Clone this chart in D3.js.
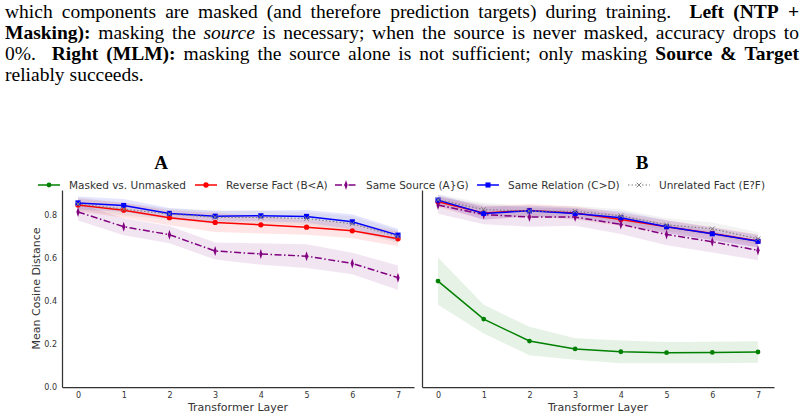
<!DOCTYPE html>
<html lang="en">
<head>
<meta charset="UTF-8">
<title>Mean Cosine Distance per Layer</title>
<script src="https://d3js.org/d3.v7.min.js"></script>
<style>
    body { margin: 0; background: #fff; }
    svg { display: block; }
    .caption { font-family: "Liberation Serif", "DejaVu Serif", serif; font-size: 19.5px; fill: #000; }
    .tick text { font-family: "DejaVu Sans", sans-serif; font-size: 8px; fill: #333; }
    .axis-label { font-family: "DejaVu Sans", sans-serif; font-size: 11px; fill: #333; }
    .legend text { font-family: "DejaVu Sans", sans-serif; font-size: 10.5px; fill: #333; }
    .panel-title { font-family: "Liberation Serif", "DejaVu Serif", serif; font-size: 19px; font-weight: bold; }
</style>
</head>
<body>
<svg id="chart" width="804" height="419"></svg>
<script>
// caption lines (bottom of the figure caption above the chart)
const captionLines = [
    [["which", ""], ["components", ""], ["are", ""], ["masked", ""], ["(and", ""], ["therefore", ""], ["prediction", ""], ["targets)", ""], ["during", ""], ["training.", ""], ["Left", "b"], ["(NTP", "b"], ["+", "b"]],
    [["Masking):", "b"], ["masking", ""], ["the", ""], ["source", "i"], ["is", ""], ["necessary;", ""], ["when", ""], ["the", ""], ["source", ""], ["is", ""], ["never", ""], ["masked,", ""], ["accuracy", ""], ["drops", ""], ["to", ""]],
    [["0%.", ""], ["Right", "b"], ["(MLM):", "b"], ["masking", ""], ["the", ""], ["source", ""], ["alone", ""], ["is", ""], ["not", ""], ["sufficient;", ""], ["only", ""], ["masking", ""], ["Source", "b"], ["&", "b"], ["Target", "b"]],
    [["reliably", ""], ["succeeds.", ""]]
];

const layers = [0, 1, 2, 3, 4, 5, 6, 7];
const yTicks = [0.0, 0.2, 0.4, 0.6, 0.8];

// series names (legend order)
const seriesNames = ["Masked vs. Unmasked", "Reverse Fact (B<A)", "Same Source (A}G)", "Same Relation (C>D)", "Unrelated Fact (E?F)"];

// Panel A: means and spreads
const aReverse      = [0.847, 0.823, 0.788, 0.766, 0.755, 0.744, 0.727, 0.690];
const aReverseSd    = [0.030, 0.035, 0.035, 0.045, 0.040, 0.035, 0.035, 0.035];
const aSource       = [0.815, 0.746, 0.709, 0.633, 0.619, 0.609, 0.575, 0.509];
const aSourceSd     = [0.040, 0.040, 0.040, 0.040, 0.050, 0.055, 0.050, 0.057];
const aRelation     = [0.857, 0.845, 0.808, 0.795, 0.797, 0.794, 0.769, 0.707];
const aRelationSd   = [0.030, 0.030, 0.025, 0.025, 0.025, 0.030, 0.035, 0.030];
const aUnrelated    = [0.852, 0.828, 0.805, 0.790, 0.790, 0.784, 0.760, 0.700];
const aUnrelatedSd  = [0.030, 0.030, 0.025, 0.030, 0.030, 0.030, 0.035, 0.030];

// Panel B: means and spreads
const bMasked       = [0.493, 0.316, 0.214, 0.177, 0.164, 0.160, 0.161, 0.163];
const bMaskedSd     = [0.110, 0.067, 0.066, 0.050, 0.053, 0.050, 0.050, 0.050];
const bReverse      = [0.862, 0.810, 0.822, 0.810, 0.780, 0.746, 0.715, 0.680];
const bReverseSd    = [0.025, 0.030, 0.030, 0.030, 0.030, 0.030, 0.030, 0.030];
const bSource       = [0.847, 0.803, 0.791, 0.791, 0.757, 0.710, 0.676, 0.636];
const bSourceSd     = [0.040, 0.045, 0.045, 0.040, 0.045, 0.050, 0.050, 0.046];
const bRelation     = [0.870, 0.808, 0.820, 0.808, 0.788, 0.746, 0.713, 0.678];
const bRelationSd   = [0.025, 0.030, 0.025, 0.025, 0.030, 0.030, 0.030, 0.030];
const bUnrelated    = [0.872, 0.826, 0.819, 0.818, 0.797, 0.755, 0.736, 0.690];
const bUnrelatedSd  = [0.025, 0.030, 0.025, 0.025, 0.030, 0.030, 0.030, 0.030];

const styles = [
    { color: "green",  dash: null,          marker: "circle",  size: 18 },
    { color: "red",    dash: null,          marker: "circle",  size: 22 },
    { color: "purple", dash: "7,2.5,1.5,2.5", marker: "diamond", size: 22 },
    { color: "blue",   dash: null,          marker: "square",  size: 26 },
    { color: "gray",   dash: "1.5,2",       marker: "x",       size: 16 }
];

const svg = d3.select("#chart");

// ---- caption text, justified (wider gap after a full stop) ----
const capLeft = 5, capRight = 799;
captionLines.forEach((line, li) => {
    const y = 18 + li * 21;
    const g = svg.append("g");
    const nodes = line.map(([w, s]) => g.append("text")
        .attr("class", "caption")
        .attr("y", y)
        .style("font-weight", s === "b" ? "bold" : "normal")
        .style("font-style", s === "i" ? "italic" : "normal")
        .text(w));
    const widths = nodes.map(n => n.node().getComputedTextLength());
    const weights = line.slice(0, -1).map(([w]) => w.endsWith(".") ? 2 : 1);
    const total = d3.sum(widths);
    const last = li === captionLines.length - 1;
    const unit = last ? 5 : (capRight - capLeft - total) / d3.sum(weights);
    let x = capLeft;
    nodes.forEach((n, i) => { n.attr("x", x); x += widths[i] + unit * (weights[i] || 0); });
});

// ---- panels ----
const plotTop = 190, plotBottom = 387;
const panels = [
    { title: "A", left: 62, right: 414, titleX: 161, showY: true,
      series: [null, [aReverse, aReverseSd], [aSource, aSourceSd], [aRelation, aRelationSd], [aUnrelated, aUnrelatedSd]] },
    { title: "B", left: 422, right: 774, titleX: 642, showY: false,
      series: [[bMasked, bMaskedSd], [bReverse, bReverseSd], [bSource, bSourceSd], [bRelation, bRelationSd], [bUnrelated, bUnrelatedSd]] }
];

function markerPath(m, size) {
    if (m === "circle") return d3.symbol(d3.symbolCircle, size)();
    if (m === "square") return d3.symbol(d3.symbolSquare, size)();
    if (m === "diamond") return d3.symbol(d3.symbolDiamond, size)();
    return d3.symbol(d3.symbolTimes || d3.symbolCross, size)();
}

function drawMarker(g, st, x, y) {
    const p = g.append("path")
        .attr("d", markerPath(st.marker, st.size))
        .attr("transform", `translate(${x},${y})` + (st.marker === "diamond" ? " scale(0.65,1.15)" : ""));
    if (st.marker === "x") {
        p.attr("fill", "none").attr("stroke", st.color).attr("stroke-width", 1);
    } else {
        p.attr("fill", st.color);
    }
}

const yScale = d3.scaleLinear().domain([0, 0.917]).range([plotBottom, plotTop]);

panels.forEach(p => {
    const x = d3.scaleLinear().domain([-0.35, 7.35]).range([p.left, p.right]);
    const g = svg.append("g");

    // bands first
    p.series.forEach((s, k) => {
        if (!s) return;
        const [mean, sd] = s;
        const area = d3.area()
            .x((d, i) => x(layers[i]))
            .y0((d, i) => yScale(mean[i] - sd[i]))
            .y1((d, i) => yScale(mean[i] + sd[i]));
        g.append("path").datum(mean)
            .attr("d", area)
            .attr("fill", styles[k].color)
            .attr("fill-opacity", 0.1);
    });

    // lines and markers
    p.series.forEach((s, k) => {
        if (!s) return;
        const [mean] = s;
        const st = styles[k];
        const line = d3.line().x((d, i) => x(layers[i])).y(d => yScale(d));
        g.append("path").datum(mean)
            .attr("d", line)
            .attr("fill", "none")
            .attr("stroke", st.color)
            .attr("stroke-width", k === 4 ? 1.2 : 1.5)
            .attr("stroke-dasharray", st.dash);
        mean.forEach((v, i) => drawMarker(g, st, x(layers[i]), yScale(v)));
    });

    // axes
    const xAxis = g.append("g")
        .attr("transform", `translate(0,${plotBottom})`)
        .call(d3.axisBottom(x).tickValues(layers).tickFormat(d3.format("d")).tickSize(0).tickPadding(5));
    xAxis.select(".domain").attr("stroke", "#333").attr("stroke-width", 1.25);

    const yAxis = g.append("g")
        .attr("transform", `translate(${p.left},0)`)
        .call(d3.axisLeft(yScale).tickValues(yTicks).tickFormat(p.showY ? d3.format(".1f") : "").tickSize(0).tickPadding(5));
    yAxis.select(".domain").attr("stroke", "#333").attr("stroke-width", 1.25);

    g.append("text")
        .attr("class", "axis-label")
        .attr("x", (p.left + p.right) / 2)
        .attr("y", 411)
        .attr("text-anchor", "middle")
        .text("Transformer Layer");

    g.append("text")
        .attr("class", "panel-title")
        .attr("x", p.titleX)
        .attr("y", 169)
        .attr("text-anchor", "middle")
        .text(p.title);
});

svg.append("text")
    .attr("class", "axis-label")
    .attr("transform", `translate(40,${(plotTop + plotBottom) / 2}) rotate(-90)`)
    .attr("text-anchor", "middle")
    .text("Mean Cosine Distance");

// ---- legend ----
const legendX = [38, 195, 335, 477, 628];
const legend = svg.append("g").attr("class", "legend");
seriesNames.forEach((name, k) => {
    const st = styles[k];
    const lg = legend.append("g").attr("transform", `translate(${legendX[k]},185)`);
    lg.append("line")
        .attr("x1", 0).attr("x2", 22)
        .attr("stroke", st.color)
        .attr("stroke-width", k === 4 ? 1.2 : 1.5)
        .attr("stroke-dasharray", st.dash);
    drawMarker(lg, st, 11, 0);
    lg.append("text")
        .attr("x", 31)
        .attr("y", 4)
        .text(name);
});
</script>
</body>
</html>
